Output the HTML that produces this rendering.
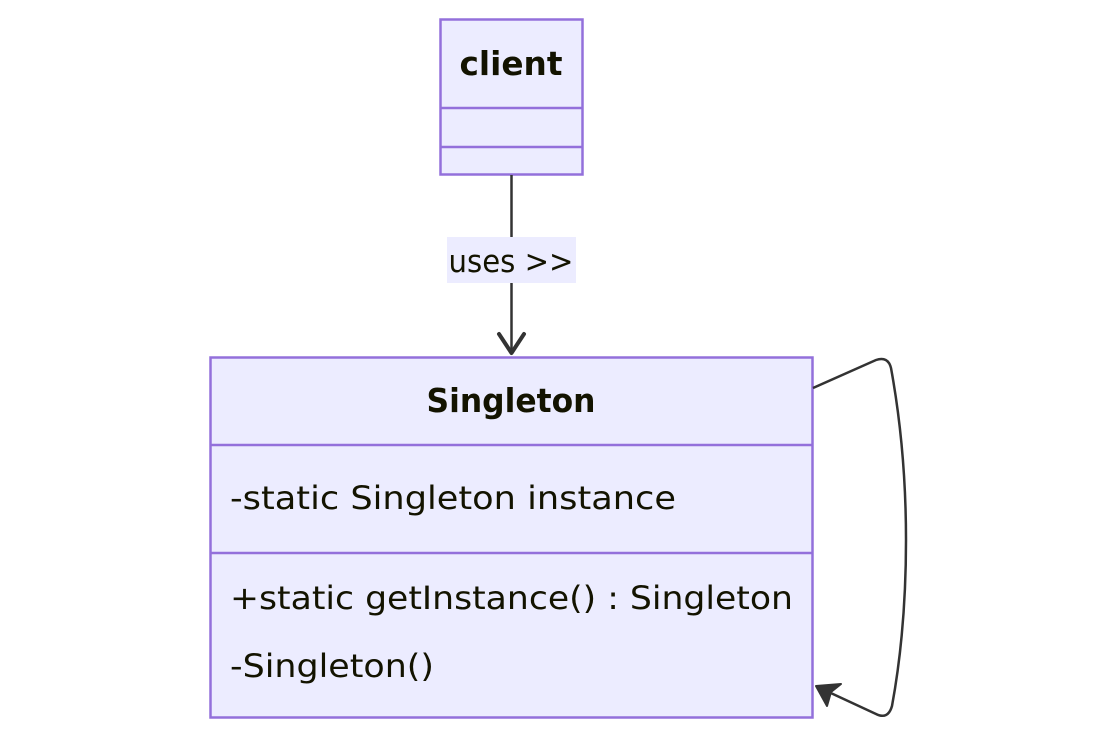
<!DOCTYPE html>
<html><head><style>html,body{margin:0;padding:0;background:#fff}</style></head>
<body>
<svg width="1116" height="739" viewBox="0 0 1116 739" xmlns="http://www.w3.org/2000/svg" font-family="'DejaVu Sans','Liberation Sans',sans-serif">
<rect x="440.5" y="19.5" width="142" height="155" fill="#ececff" stroke="#9370db" stroke-width="2.5"/>
<line x1="440" y1="108" x2="583" y2="108" stroke="#9370db" stroke-width="2.5"/>
<line x1="440" y1="147" x2="583" y2="147" stroke="#9370db" stroke-width="2.5"/>
<text x="511" y="75" text-anchor="middle" font-weight="bold" font-size="33" fill="#131300" textLength="103" lengthAdjust="spacingAndGlyphs">client</text>
<line x1="511.5" y1="175" x2="511.5" y2="352" stroke="#333" stroke-width="2.5"/>
<rect x="447" y="237" width="129" height="46" fill="#ececff"/>
<text x="511" y="272" text-anchor="middle" font-size="31" fill="#131300" textLength="125" lengthAdjust="spacingAndGlyphs">uses &gt;&gt;</text>
<path d="M499 334 L511.5 353 L524 334" fill="none" stroke="#333" stroke-width="4" stroke-linejoin="round" stroke-linecap="round"/>
<rect x="210.5" y="357.5" width="602" height="360" fill="#ececff" stroke="#9370db" stroke-width="2.5"/>
<line x1="210" y1="445" x2="813" y2="445" stroke="#9370db" stroke-width="2.5"/>
<line x1="210" y1="553" x2="813" y2="553" stroke="#9370db" stroke-width="2.5"/>
<text x="511" y="412" text-anchor="middle" font-weight="bold" font-size="33" fill="#131300" textLength="169" lengthAdjust="spacingAndGlyphs">Singleton</text>
<text x="230" y="509" font-size="32" fill="#131300" textLength="446" lengthAdjust="spacingAndGlyphs">-static Singleton instance</text>
<text x="230" y="609" font-size="32" fill="#131300" textLength="563" lengthAdjust="spacingAndGlyphs">+static getInstance() : Singleton</text>
<text x="230" y="677" font-size="32" fill="#131300" textLength="204" lengthAdjust="spacingAndGlyphs">-Singleton()</text>
<path d="M813 388 L876 360 Q888 356 891 368 Q906 450 906 540 Q906 630 892 706 Q888 720 876 714 L820 688" fill="none" stroke="#333" stroke-width="2.5"/>
<path d="M816 686 L841 684 L831 692 L827 706 Z" fill="#333" stroke="#333" stroke-width="2" stroke-linejoin="round"/>
</svg>
</body></html>
